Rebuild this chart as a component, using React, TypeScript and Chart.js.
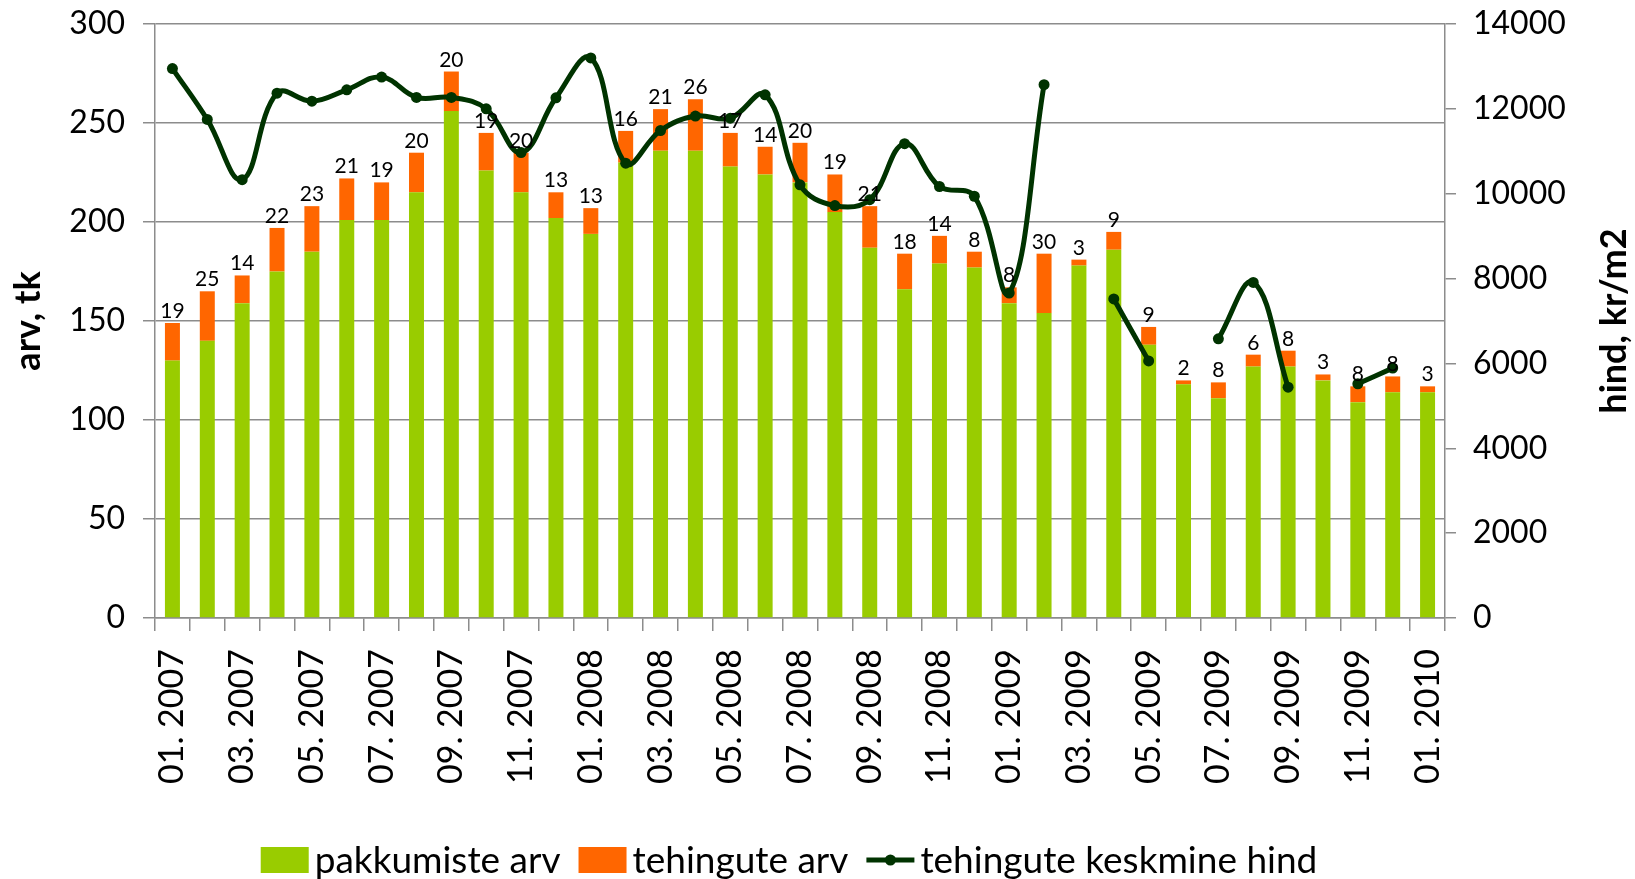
import React, { useEffect, useRef } from 'react';
import { Chart, registerables } from 'chart.js';

Chart.register(...registerables);

const months = [
  '01. 2007', '02. 2007', '03. 2007', '04. 2007', '05. 2007', '06. 2007', '07. 2007', '08. 2007', '09. 2007', '10. 2007', '11. 2007', '12. 2007',
  '01. 2008', '02. 2008', '03. 2008', '04. 2008', '05. 2008', '06. 2008', '07. 2008', '08. 2008', '09. 2008', '10. 2008', '11. 2008', '12. 2008',
  '01. 2009', '02. 2009', '03. 2009', '04. 2009', '05. 2009', '06. 2009', '07. 2009', '08. 2009', '09. 2009', '10. 2009', '11. 2009', '12. 2009',
  '01. 2010',
];

const pakkumisteArv = [
  130, 140, 159, 175, 185, 201, 201, 215, 256, 226, 215, 202,
  194, 230, 236, 236, 228, 224, 220, 205, 187, 166, 179, 177,
  159, 154, 178, 186, 138, 118, 111, 127, 127, 120, 109, 114,
  114,
];

const tehinguteArv = [
  19, 25, 14, 22, 23, 21, 19, 20, 20, 19, 20, 13,
  13, 16, 21, 26, 17, 14, 20, 19, 21, 18, 14, 8,
  8, 30, 3, 9, 9, 2, 8, 6, 8, 3, 8, 8,
  3,
];

const keskmineHind: (number | null)[] = [
  12950, 11750, 10330, 12370, 12180, 12450, 12750, 12270, 12270, 12000, 10970, 12260,
  13200, 10720, 11490, 11830, 11780, 12330, 10210, 9720, 9860, 11180, 10170, 9940,
  7660, 12570, null, 7520, 6060, null, 6580, 7910, 5440, null, 5520, 5890,
  null,
];

const leftTitle = 'arv, tk';
const rightTitle = 'hind, kr/m2';
const legendNames = ['pakkumiste arv', 'tehingute arv', 'tehingute keskmine hind'];

const GREEN = '#99CC00';
const ORANGE = '#FF6600';
const DARK = '#003300';
const GRID = '#8c8c8c';
const FONT = 'Lato, "Open Sans", sans-serif';

const W = 1635;
const H = 879;

const labelsPlugin = {
  id: 'barLabels',
  afterDatasetsDraw(chart: any) {
    const ctx = chart.ctx;
    const meta = chart.getDatasetMeta(1);
    ctx.save();
    ctx.font = `21px ${FONT}`;
    ctx.fillStyle = '#000';
    ctx.textAlign = 'center';
    ctx.textBaseline = 'alphabetic';
    meta.data.forEach((bar: any, i: number) => {
      ctx.fillText(String(tehinguteArv[i]), bar.x, bar.y - 5);
    });
    ctx.restore();
  },
};

const decorPlugin = {
  id: 'decor',
  afterDraw(chart: any) {
    const ctx = chart.ctx;
    const area = chart.chartArea;
    const cy = (area.top + area.bottom) / 2;
    ctx.save();
    ctx.fillStyle = '#000';
    ctx.font = `bold 36px ${FONT}`;
    ctx.textAlign = 'center';
    ctx.textBaseline = 'middle';
    ctx.save();
    ctx.translate(28, cy);
    ctx.rotate(-Math.PI / 2);
    ctx.fillText(leftTitle, 0, 0);
    ctx.restore();
    ctx.save();
    ctx.translate(1614, cy);
    ctx.rotate(-Math.PI / 2);
    ctx.fillText(rightTitle, 0, 0);
    ctx.restore();

    // legend
    ctx.font = `37px ${FONT}`;
    ctx.textAlign = 'left';
    const boxW = 48;
    const boxH = 26;
    const gapBoxText = 6;
    const gapItems = 18;
    const widths = legendNames.map((n) => ctx.measureText(n).width);
    const total = widths.reduce((a, b) => a + b, 0) + 3 * (boxW + gapBoxText) + 2 * gapItems;
    let x = 789 - total / 2;
    const ly = 860;
    legendNames.forEach((name, i) => {
      if (i === 0 || i === 1) {
        ctx.fillStyle = i === 0 ? GREEN : ORANGE;
        ctx.fillRect(x, ly - boxH / 2, boxW, boxH);
      } else {
        ctx.strokeStyle = DARK;
        ctx.lineWidth = 5;
        ctx.beginPath();
        ctx.moveTo(x, ly);
        ctx.lineTo(x + boxW, ly);
        ctx.stroke();
        ctx.fillStyle = DARK;
        ctx.beginPath();
        ctx.arc(x + boxW / 2, ly, 5.5, 0, Math.PI * 2);
        ctx.fill();
      }
      x += boxW + gapBoxText;
      ctx.fillStyle = '#000';
      ctx.fillText(name, x, ly + 1);
      x += widths[i] + gapItems;
    });
    ctx.restore();
  },
};

const zeroPad = (s: any) => {
  s.paddingTop = 0;
  s.paddingBottom = 0;
  s.paddingLeft = 0;
  s.paddingRight = 0;
};

export default function App() {
  const ref = useRef<HTMLCanvasElement | null>(null);

  useEffect(() => {
    if (!ref.current) return;
    const chart = new Chart(ref.current, {
      type: 'bar',
      data: {
        labels: months,
        datasets: [
          {
            type: 'bar',
            label: legendNames[0],
            data: pakkumisteArv,
            backgroundColor: GREEN,
            stack: 'a',
            yAxisID: 'y',
            order: 1,
            barPercentage: 0.43,
            categoryPercentage: 1,
          },
          {
            type: 'bar',
            label: legendNames[1],
            data: tehinguteArv,
            backgroundColor: ORANGE,
            stack: 'a',
            yAxisID: 'y',
            order: 2,
            barPercentage: 0.43,
            categoryPercentage: 1,
          },
          {
            type: 'line',
            label: legendNames[2],
            data: keskmineHind,
            borderColor: DARK,
            backgroundColor: DARK,
            borderWidth: 5,
            pointRadius: 5.5,
            pointBackgroundColor: DARK,
            pointBorderWidth: 0,
            tension: 0.4,
            spanGaps: false,
            fill: false,
            yAxisID: 'y1',
            order: 0,
          } as any,
        ],
      },
      options: {
        responsive: true,
        maintainAspectRatio: false,
        animation: false,
        devicePixelRatio: 1,
        layout: { padding: { top: 24, left: 0, right: 0, bottom: 0 } },
        plugins: {
          legend: { display: false },
          tooltip: { enabled: false },
          title: { display: false },
        },
        scales: {
          x: {
            stacked: true,
            offset: true,
            grid: {
              offset: true,
              drawOnChartArea: false,
              drawTicks: true,
              tickLength: 13,
              color: GRID,
              lineWidth: 1.5,
            },
            border: { display: true, color: GRID, width: 1.5 },
            ticks: {
              autoSkip: false,
              maxRotation: 90,
              minRotation: 90,
              padding: 18,
              color: '#000',
              font: { family: FONT, size: 34 },
              callback: (_v: any, i: number) => (i % 2 === 0 ? months[i] : ''),
            },
            afterFit: (s: any) => {
              s.height = H - 618;
              zeroPad(s);
            },
          },
          y: {
            position: 'left',
            stacked: true,
            min: 0,
            max: 300,
            ticks: {
              stepSize: 50,
              padding: 18,
              color: '#000',
              font: { family: FONT, size: 32 },
            },
            grid: {
              color: GRID,
              lineWidth: 1.5,
              tickLength: 12,
              drawTicks: true,
            },
            border: { display: true, color: GRID, width: 1.5 },
            afterFit: (s: any) => {
              s.width = 155;
              zeroPad(s);
            },
          },
          y1: {
            position: 'right',
            stacked: false,
            min: 0,
            max: 14000,
            ticks: {
              stepSize: 2000,
              padding: 17,
              color: '#000',
              font: { family: FONT, size: 32 },
              callback: (v: any) => String(v),
            },
            grid: {
              drawOnChartArea: false,
              color: GRID,
              lineWidth: 1.5,
              tickLength: 11,
              drawTicks: true,
            },
            border: { display: true, color: GRID, width: 1.5 },
            afterFit: (s: any) => {
              s.width = W - 1445;
              zeroPad(s);
            },
          },
        },
      } as any,
      plugins: [labelsPlugin, decorPlugin],
    });
    return () => chart.destroy();
  }, []);

  return (
    <div style={{ position: 'absolute', left: 0, top: 0, width: W, height: H, background: '#fff' }}>
      <canvas ref={ref} />
    </div>
  );
}
